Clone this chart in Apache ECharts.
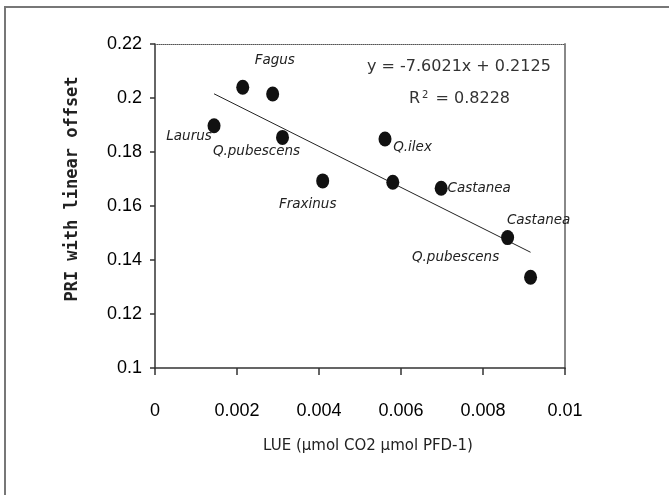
<!DOCTYPE html>
<html>
<head>
<meta charset="utf-8">
<script src="https://cdn.jsdelivr.net/npm/echarts@6/dist/echarts.min.js"></script>
<style>html,body{margin:0;padding:0;background:#fff;}#c{width:669px;height:495px;}</style>
</head>
<body>
<div id="c"></div>
<script>
// Data
const lue = [0.00144, 0.00214, 0.00287, 0.00311, 0.00409, 0.00561, 0.00580, 0.00698, 0.00860, 0.00916];
const pri = [0.1897, 0.2040, 0.2015, 0.1854, 0.1693, 0.1848, 0.1688, 0.1666, 0.1483, 0.1336];
const species = ['Laurus', 'Fagus', '', 'Q.pubescens', 'Fraxinus', 'Q.ilex', '', 'Castanea', 'Castanea', 'Q.pubescens'];
const xTicks = [0, 0.002, 0.004, 0.006, 0.008, 0.01];
const yTicks = [0.1, 0.12, 0.14, 0.16, 0.18, 0.2, 0.22];
const slope = -7.6021;
const intercept = 0.2125;
const r2 = '0.8228';

// label placement (pixels relative to point centre) - layout only
const labelOffsets = [[-25, 11], [32, -27], [0, 0], [-26, 14], [-15, 24], [27.5, 8], [0, 0], [38, 0], [31, -17], [-75, -20]];

const chart = echarts.init(document.getElementById('c'), null, {renderer: 'canvas'});
const xMin = Math.min(...lue), xMax = Math.max(...lue);
const labelFont = {fontFamily: 'DejaVu Sans', fontStyle: 'italic', fontSize: 13.5, color: '#222'};

const option = {
  animation: false,
  backgroundColor: '#fff',
  grid: {left: 155, right: 104, top: 44, bottom: 127, containLabel: false},
  xAxis: [{
    type: 'value', min: 0, max: 0.01, interval: 0.002, position: 'bottom',
    name: 'LUE (\u03bcmol CO2 \u03bcmol PFD-1)', nameLocation: 'middle', nameGap: 71,
    nameTextStyle: {fontFamily: 'DejaVu Sans', fontSize: 15, color: '#222', padding: [0, 0, 0, 16]},
    axisLine: {onZero: false, lineStyle: {color: '#333', width: 1.5}},
    axisTick: {length: 7, lineStyle: {color: '#333', width: 1.5}},
    axisLabel: {margin: 34, fontFamily: 'Liberation Sans', fontSize: 18, color: '#000',
      formatter: v => { const m = xTicks.find(t => Math.abs(t - v) < 1e-9); return m === undefined ? '' : String(m); }},
    splitLine: {show: false}
  }, {
    type: 'value', min: 0, max: 0.01, position: 'top',
    axisLine: {show: true, onZero: false, lineStyle: {color: '#555', width: 1, type: [1, 1]}},
    axisTick: {show: false}, axisLabel: {show: false}, splitLine: {show: false}
  }],
  yAxis: [{
    type: 'value', min: 0.1, max: 0.22, interval: 0.02, position: 'left',
    name: 'PRI with linear offset', nameLocation: 'middle', nameGap: 74, nameRotate: 90,
    nameTextStyle: {fontFamily: 'DejaVu Sans Mono', fontWeight: 'bold', fontSize: 17, color: '#222', padding: [0, 0, 0, 34]},
    axisLine: {onZero: false, lineStyle: {color: '#333', width: 1.5}},
    axisTick: {length: 5, lineStyle: {color: '#333', width: 1.5}},
    axisLabel: {margin: 13, fontFamily: 'Liberation Sans', fontSize: 18, color: '#000',
      formatter: v => { const m = yTicks.find(t => Math.abs(t - v) < 1e-9); return m === undefined ? '' : String(m); }},
    splitLine: {show: false}
  }, {
    type: 'value', min: 0.1, max: 0.22, position: 'right',
    axisLine: {show: true, onZero: false, lineStyle: {color: '#888', width: 2}},
    axisTick: {show: false}, axisLabel: {show: false}, splitLine: {show: false}
  }],
  series: [{
    type: 'line',
    data: [[xMin, slope * xMin + intercept], [xMax, slope * xMax + intercept]],
    symbol: 'none',
    lineStyle: {color: '#222', width: 1},
    silent: true, z: 1
  }, {
    type: 'scatter',
    symbol: 'circle',
    symbolSize: [13, 15],
    itemStyle: {color: '#111', opacity: 1},
    data: lue.map((x, i) => ({
      value: [x, pri[i]],
      label: {
        show: species[i] !== '',
        formatter: species[i],
        position: 'inside',
        align: 'center', verticalAlign: 'middle',
        offset: labelOffsets[i],
        ...labelFont
      }
    })),
    z: 3
  }],
  graphic: [
    {type: 'polyline', shape: {points: [[5, 495], [5, 7], [669, 7]]}, style: {stroke: '#777', lineWidth: 2, fill: null}, silent: true},
    {type: 'text', left: 367, top: 59, style: {text: 'y = -7.6021x + 0.2125', font: '16px "DejaVu Sans"', fill: '#333'}},
    {type: 'text', left: 409, top: 90, style: {
      text: '{r|R}{s|2}{r| = ' + r2 + '}',
      rich: {r: {font: '16px "DejaVu Sans"', fill: '#333', color: '#333'}, s: {font: '10px "DejaVu Sans"', color: '#333', fill: '#333', verticalAlign: 'top', padding: [0, 2, 8, 2]}}
    }}
  ]
};
chart.setOption(option);
</script>
</body>
</html>
